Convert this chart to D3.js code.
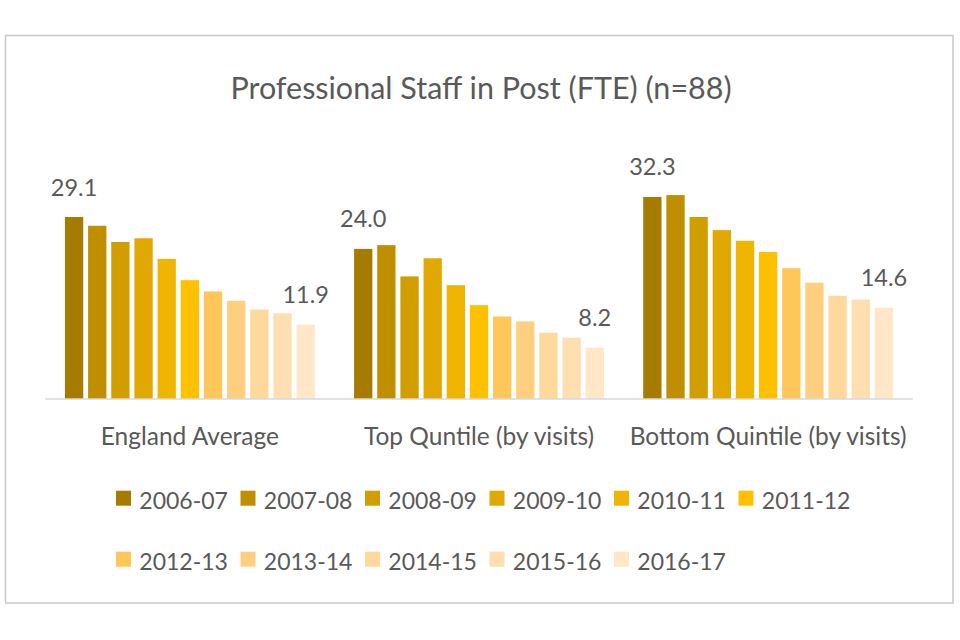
<!DOCTYPE html>
<html>
<head>
<meta charset="utf-8">
<script src="https://cdn.jsdelivr.net/npm/d3@7/dist/d3.min.js"></script>
<style>
  html, body { margin: 0; padding: 0; background: #fff; }
  svg { display: block; }
  text { font-family: Lato, "Open Sans", sans-serif; fill: #595959; }
</style>
</head>
<body>
<svg id="chart" width="960" height="640"></svg>
<script>
const categories = ["England Average", "Top Quntile (by visits)", "Bottom Quintile (by visits)"];
const seasons = ["2006-07","2007-08","2008-09","2009-10","2010-11","2011-12","2012-13","2013-14","2014-15","2015-16","2016-17"];
const englandAverage = [29.1, 27.7, 25.1, 25.7, 22.4, 19.0, 17.2, 15.7, 14.3, 13.7, 11.9];
const topQuintile    = [24.0, 24.6, 19.6, 22.5, 18.2, 15.0, 13.2, 12.4, 10.6, 9.8, 8.2];
const bottomQuintile = [32.3, 32.6, 29.1, 27.0, 25.3, 23.5, 20.9, 18.6, 16.5, 15.9, 14.6];
const seasonColors = ["#A67C00","#BF8F00","#D19E00","#E0A800","#F0B500","#FFC000","#FFC659","#FFCF80","#FFD89C","#FFDFB0","#FFE7C8"];
const title = "Professional Staff in Post (FTE) (n=88)";

const seriesByCategory = [englandAverage, topQuintile, bottomQuintile];
const svg = d3.select("#chart");

// frame
svg.append("rect").attr("x", 5.5).attr("y", 35.5).attr("width", 947.5).attr("height", 567.5)
  .attr("fill", "#fff").attr("stroke", "#C9C9C9").attr("stroke-width", 1.5);

// title
svg.append("text").attr("x", 481).attr("y", 99).attr("text-anchor", "middle")
  .style("font-size", "30.5px").text(title);

const x0 = d3.scaleBand().domain(categories).range([45.3, 912.7]).padding(0);
const x1 = d3.scaleBand().domain(seasons).range([0, x0.bandwidth()])
  .paddingInner(0.21).paddingOuter(0.848);
const y = d3.scaleLinear().domain([0, 35]).range([399, 180.1]);
const color = d3.scaleOrdinal().domain(seasons).range(seasonColors);

const groups = svg.selectAll("g.grp").data(categories).join("g")
  .attr("class", "grp")
  .attr("transform", d => `translate(${x0(d)},0)`);

groups.selectAll("rect").data((c, i) => seasons.map((s, j) => ({s, v: seriesByCategory[i][j]})))
  .join("rect")
  .attr("x", d => x1(d.s))
  .attr("y", d => y(d.v))
  .attr("width", x1.bandwidth())
  .attr("height", d => y(0) - y(d.v))
  .attr("fill", d => color(d.s));

// data labels on first and last bars
groups.selectAll("text.lbl").data((c, i) => {
  const vals = seriesByCategory[i];
  return [{s: seasons[0], v: vals[0]}, {s: seasons[seasons.length-1], v: vals[vals.length-1]}];
}).join("text")
  .attr("class", "lbl")
  .attr("x", d => x1(d.s) + x1.bandwidth()/2)
  .attr("y", d => y(d.v) - 21.5)
  .attr("text-anchor", "middle")
  .style("font-size", "23.5px")
  .text(d => d.v.toFixed(1));

// axis
const axis = svg.append("g").attr("transform", `translate(0,${y(0)})`)
  .call(d3.axisBottom(x0).tickSize(0).tickPadding(0));
axis.select(".domain").attr("stroke", "#D9D9D9").attr("stroke-width", 1.5)
  .attr("d", `M45.3,0H912.7`);
axis.selectAll(".tick text").attr("dy", null).attr("y", 45.5)
  .style("font-size", "24.5px").style("font-family", "Lato, 'Open Sans', sans-serif").attr("fill", "#595959");

// legend
const legend = svg.append("g");
const items = legend.selectAll("g").data(seasons).join("g")
  .attr("transform", (d, i) => `translate(${116 + (i % 6) * 124.5},${i < 6 ? 490.7 : 551.7})`);
items.append("rect").attr("width", 15).attr("height", 15).attr("fill", d => color(d));
items.append("text").attr("x", 23.3).attr("y", 18.5).style("font-size", "23px").text(d => d);
</script>
</body>
</html>
